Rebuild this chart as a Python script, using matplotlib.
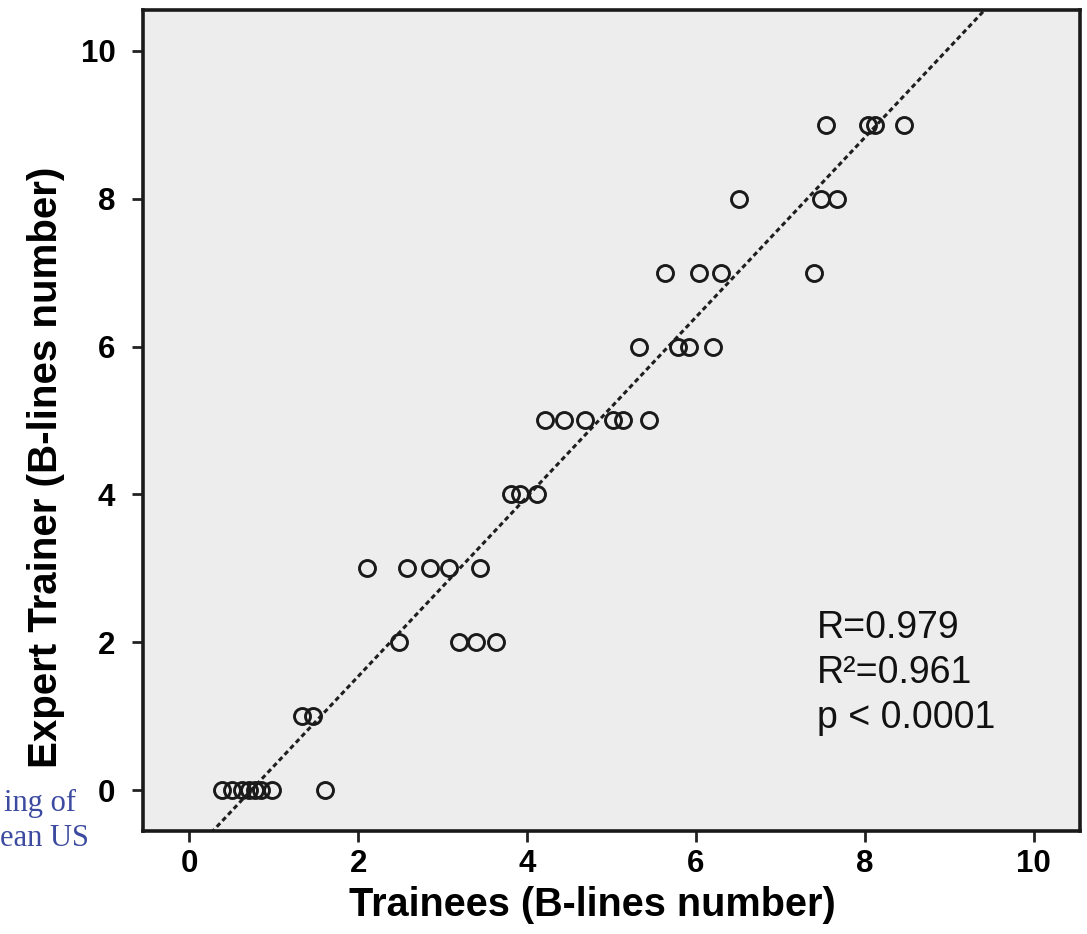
import matplotlib
matplotlib.use("Agg")
import matplotlib.pyplot as plt

# B-lines counted by trainees (x) vs the expert trainer (y)
trainee_counts = [
    0.38, 0.50, 0.62, 0.70, 0.78, 0.85, 0.98, 1.60,
    1.33, 1.46,
    2.48, 3.19, 3.39, 3.63,
    2.10, 2.58, 2.85, 3.07, 3.44,
    3.81, 3.92, 4.12,
    4.21, 4.44, 4.69, 5.02, 5.14, 5.44,
    5.33, 5.79, 5.92, 6.20,
    5.63, 6.04, 6.30, 7.40,
    6.51, 7.48, 7.67,
    7.54, 8.04, 8.12, 8.46,
]
expert_counts = [
    0, 0, 0, 0, 0, 0, 0, 0,
    1, 1,
    2, 2, 2, 2,
    3, 3, 3, 3, 3,
    4, 4, 4,
    5, 5, 5, 5, 5, 5,
    6, 6, 6, 6,
    7, 7, 7, 7,
    8, 8, 8,
    9, 9, 9, 9,
]

fit_intercept = -0.886
fit_slope = 1.214

stats_lines = ["R=0.979", "R\u00b2=0.961", "p < 0.0001"]
ticks = [0, 2, 4, 6, 8, 10]
axis_lo, axis_hi = -0.55, 10.55

W, H = 1087, 934
fig = plt.figure(figsize=(W / 100, H / 100), dpi=100)
ax = fig.add_axes([0.1316, 0.1103, 0.862, 0.879])
ax.set_facecolor("#ededed")

ax.plot(trainee_counts, expert_counts, linestyle="none", marker="o",
        markersize=11.5, markerfacecolor="none", markeredgecolor="#1a1a1a",
        markeredgewidth=2.1, zorder=3)

line_x = [axis_lo - 1, axis_hi + 1]
line_y = [fit_intercept + fit_slope * v for v in line_x]
ax.plot(line_x, line_y, linestyle=(0, (1.6, 1.1)), color="#1e1e1e",
        linewidth=2.2, zorder=2)

ax.set_xlim(axis_lo, axis_hi)
ax.set_ylim(axis_lo, axis_hi)
ax.set_xticks(ticks)
ax.set_yticks(ticks)
ax.set_xticklabels([str(t) for t in ticks])
ax.set_yticklabels([str(t) for t in ticks])
for lab in ax.get_xticklabels() + ax.get_yticklabels():
    lab.set_fontfamily("Liberation Sans")
    lab.set_fontweight("bold")
    lab.set_fontsize(22.5)
ax.tick_params(direction="out", length=8, width=2, color="#222222")
ax.tick_params(axis="x", pad=5)
ax.tick_params(axis="y", pad=12)
for sp in ax.spines.values():
    sp.set_linewidth(2.6)
    sp.set_color("#1a1a1a")

fig.text(592 / W, 1 - 905 / H, "Trainees (B-lines number)",
         ha="center", va="center", fontsize=28.5, fontweight="bold",
         family="Liberation Sans")
fig.text(46 / W, 1 - 467 / H, "Expert Trainer (B-lines number)",
         ha="center", va="center", rotation=90, fontsize=29,
         fontweight="bold", family="Liberation Sans")

for i, line in enumerate(stats_lines):
    fig.text(817 / W, 1 - (628 + 45 * i) / H, line, ha="left", va="center",
             fontsize=27, family="Liberation Sans", color="#111111")

# fragments of the surrounding page text
fig.text(76 / W, 1 - 803 / H, "ing of", ha="right", va="center",
         fontsize=22, family="Liberation Serif", color="#3c4aa0")
fig.text(89 / W, 1 - 838 / H, "ean US", ha="right", va="center",
         fontsize=22, family="Liberation Serif", color="#3c4aa0")

fig.savefig("out.png", dpi=100)
